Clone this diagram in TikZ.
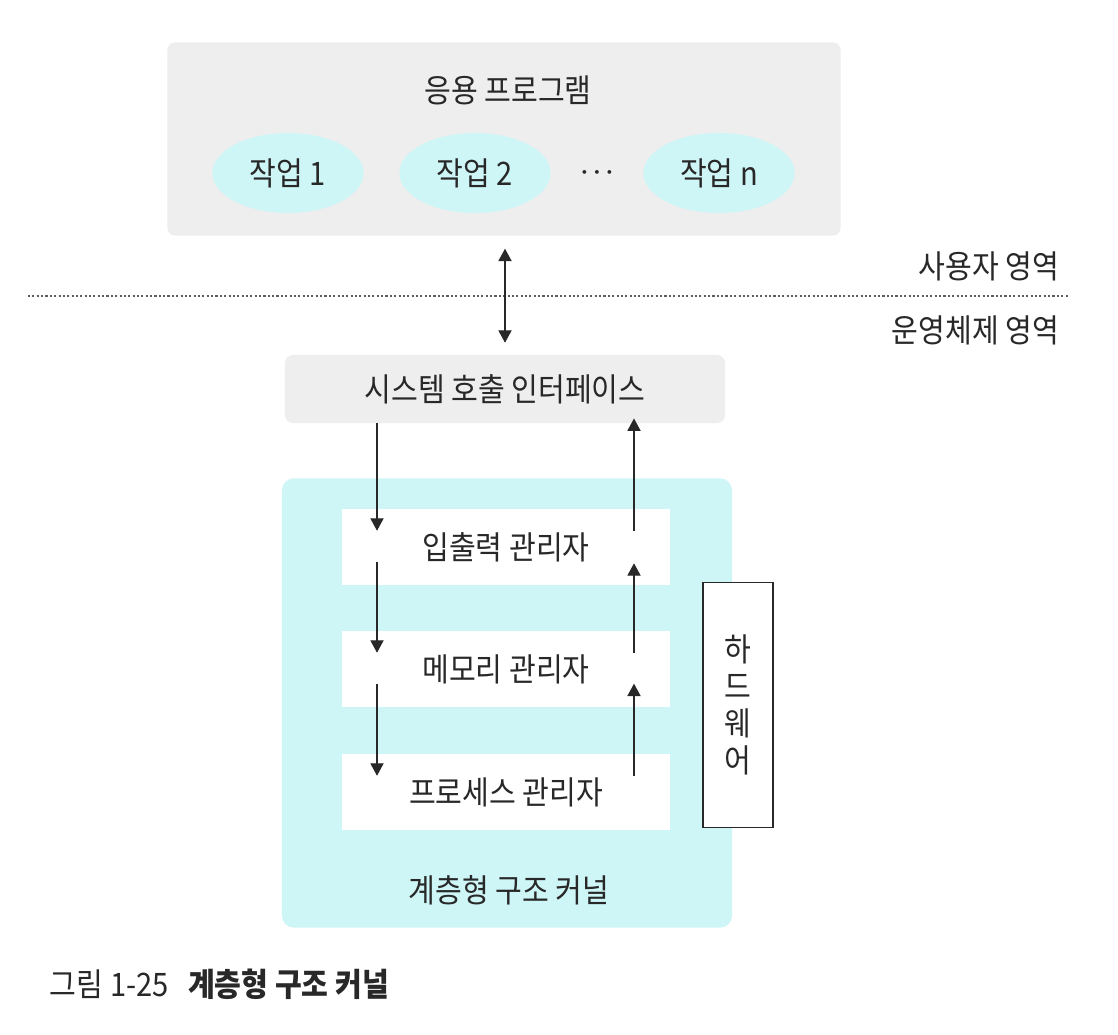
\documentclass[tikz,border=0pt]{standalone}
\usepackage{fontspec}
\setmainfont{Noto Sans CJK KR}[FakeStretch=0.9]
\usetikzlibrary{arrows.meta,positioning,shapes.geometric,calc}
\definecolor{panelgray}{RGB}{238,238,238}
\definecolor{kernelcyan}{RGB}{206,246,247}
\definecolor{inkgray}{RGB}{40,40,40}

\begin{document}
\begin{tikzpicture}[x=0.025cm,y=-0.025cm,font=\fontsize{23}{27}\selectfont,
  every node/.style={text=inkgray},
  arr/.style={-{Triangle[length=3.1mm,width=3.3mm]},line width=0.8pt,draw=inkgray},
  darr/.style={arr,{Triangle[length=3.1mm,width=3.3mm]}-{Triangle[length=3.1mm,width=3.3mm]}},
  graybox/.style={fill=panelgray,rounded corners=2mm},
  task/.style={ellipse,fill=kernelcyan,minimum width=3.78cm,minimum height=2cm},
  layer/.style={fill=white,minimum width=8.18cm,minimum height=1.92cm}]
\fill[white] (0,0) rectangle (1118,1034);
% user area
\node[graybox,minimum width=16.83cm,minimum height=4.83cm] (app) at (504,139) {};
\node (apptitle) at (508,90) {응용 프로그램};
\foreach \x/\k in {288/1,475/2,719/n}
  \node[task] (task\k) at (\x,173) {작업 \k};
\node[font=\fontsize{17}{19}\selectfont\boldmath] (dots) at (597,173) {$\cdots$};
\draw[inkgray!75,line width=1.5pt,dash pattern=on 1.5pt off 1.6pt] (28,296) -- (1068,296);
\node[anchor=east] (userarea) at (1064,266) {사용자 영역};
\node[anchor=east] (osarea) at (1064,330) {운영체제 영역};
% kernel
\node[graybox,minimum width=11cm,minimum height=1.7cm] (sci) at (505,389) {시스템 호출 인터페이스};
\node[fill=kernelcyan,rounded corners=3mm,minimum width=11.25cm,minimum height=11.23cm] (kernel) at (507,703) {};
\node[layer] (io) at (506,547) {입출력 관리자};
\node[layer] (mem) at (506,669) {메모리 관리자};
\node[layer] (proc) at (506,792) {프로세스 관리자};
\node (kerneltitle) at (509,890) {계층형 구조 커널};
\node[draw=inkgray,fill=white,line width=0.8pt,minimum width=1.75cm,minimum height=6.12cm,
  align=center,font=\fontsize{23}{26.3}\selectfont] (hw) at (738,705) {하\\드\\웨\\어};
\coordinate (lx) at (377,0);
\coordinate (rx) at (634,0);
\draw[darr,shorten <=0.32cm,shorten >=0.3cm] (app.south -| sci.north) -- (sci.north);
\foreach \a/\b/\s in {sci/io/0,io/mem/-0.6,mem/proc/-0.6}
  \draw[arr,shorten <=\s cm,shorten >=-0.56cm] (\a.south -| lx) -- (\b.north -| lx);
\foreach \a/\b/\s in {io/sci/-0.12,mem/io/-0.56,proc/mem/-0.6}
  \draw[arr,shorten <=-0.56cm,shorten >=\s cm] (\a.north -| rx) -- (\b.south -| rx);
% caption
\node[anchor=west] (caption) at (45,984) {그림 1-25\hspace{0.6em}\textbf{계층형 구조 커널}};
\end{tikzpicture}
\end{document}
